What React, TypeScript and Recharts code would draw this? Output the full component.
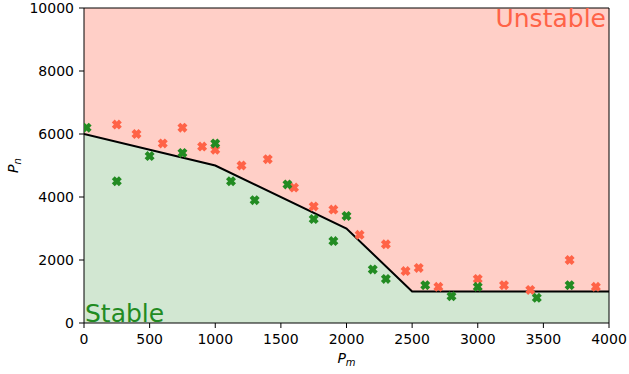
import React from "react";
import {
  ComposedChart,
  Area,
  Line,
  Scatter,
  XAxis,
  YAxis,
  ReferenceLine,
  ReferenceDot,
} from "recharts";

// Stability boundary (P_m, P_n)
const boundaryX = [0, 1000, 2000, 2500, 4000];
const boundaryY = [6000, 5000, 3000, 1000, 1000];

// Unstable samples
const unstableX = [250, 400, 600, 750, 900, 1000, 1200, 1400, 1600, 1750, 1900, 2100, 2300, 2450, 2550, 2700, 3000, 3200, 3400, 3700, 3900];
const unstableY = [6300, 6000, 5700, 6200, 5600, 5500, 5000, 5200, 4300, 3700, 3600, 2800, 2500, 1650, 1750, 1150, 1400, 1200, 1050, 2000, 1150];

// Stable samples
const stableX = [20, 250, 500, 750, 1000, 1120, 1300, 1550, 1750, 1900, 2000, 2200, 2300, 2600, 2800, 3000, 3450, 3700];
const stableY = [6200, 4500, 5300, 5400, 5700, 4500, 3900, 4400, 3300, 2600, 3400, 1700, 1400, 1200, 850, 1150, 800, 1200];

const xTicks = [0, 500, 1000, 1500, 2000, 2500, 3000, 3500, 4000];
const yTicks = [0, 2000, 4000, 6000, 8000, 10000];

const X_MAX = 4000;
const Y_MAX = 10000;

const unstableLabel = { x: 3977, y: 9406, text: "Unstable" };
const stableLabel = { x: 0, y: 0, text: "Stable" };

const boundary = boundaryX.map((x, i) => ({ x, y: boundaryY[i] }));
const unstable = unstableX.map((x, i) => ({ x, y: unstableY[i] }));
const stable = stableX.map((x, i) => ({ x, y: stableY[i] }));

const RED = "#ff6347";
const GREEN = "#228b22";
const FONT = "DejaVu Sans";

const XMarker = (props: any) => {
  const { cx, cy, fill } = props;
  if (cx == null || cy == null) return null;
  const h = 5;
  const a = 2.9;
  const pts = [
    [-h, -h + a], [-h + a, -h], [0, -a], [h - a, -h], [h, -h + a], [a, 0],
    [h, h - a], [h - a, h], [0, a], [-h + a, h], [-h, h - a], [-a, 0],
  ]
    .map(([px, py]) => `${cx + px},${cy + py}`)
    .join(" ");
  return <polygon points={pts} fill={fill} stroke="none" />;
};

const XLabel = (props: any) => {
  const vb = props.viewBox || {};
  const cx = vb.x + vb.width / 2;
  return (
    <text x={cx} y={363} textAnchor="middle" fontFamily={FONT} fontSize={14} fill="#000">
      <tspan fontStyle="italic">P</tspan>
      <tspan fontStyle="italic" fontSize={10} dy={3}>m</tspan>
    </text>
  );
};

const YLabel = (props: any) => {
  const vb = props.viewBox || {};
  const cy = vb.y + vb.height / 2;
  const x = 18;
  return (
    <text x={x} y={cy} textAnchor="middle" fontFamily={FONT} fontSize={14} fill="#000" transform={`rotate(-90, ${x}, ${cy})`}>
      <tspan fontStyle="italic">P</tspan>
      <tspan fontStyle="italic" fontSize={10} dy={3}>n</tspan>
    </text>
  );
};

export default function App() {
  return (
    <div style={{ position: "absolute", left: 0, top: 0, background: "#fff" }}>
      <ComposedChart
        width={629}
        height={374}
        data={boundary}
        margin={{ top: 8, right: 20, left: 0, bottom: 0 }}
      >
        <XAxis
          type="number"
          dataKey="x"
          domain={[0, X_MAX]}
          ticks={xTicks}
          allowDataOverflow
          height={51}
          tickSize={5}
          tickMargin={6}
          stroke="#000"
          tick={{ fill: "#000", fontSize: 14, fontFamily: FONT }}
          label={<XLabel />}
        />
        <YAxis
          type="number"
          domain={[0, Y_MAX]}
          ticks={yTicks}
          allowDataOverflow
          width={84}
          tickSize={5}
          tickMargin={5}
          stroke="#000"
          tick={{ fill: "#000", fontSize: 14, fontFamily: FONT }}
          label={<YLabel />}
        />
        <Area
          type="linear"
          dataKey={(d: any) => [d.y, Y_MAX]}
          fill="#ffcfc7"
          fillOpacity={1}
          stroke="none"
          isAnimationActive={false}
        />
        <Area
          type="linear"
          dataKey={(d: any) => [0, d.y]}
          fill="#d2e7d2"
          fillOpacity={1}
          stroke="none"
          isAnimationActive={false}
        />
        <Scatter data={unstable} dataKey="y" fill={RED} shape={<XMarker />} isAnimationActive={false} />
        <Scatter data={stable} dataKey="y" fill={GREEN} shape={<XMarker />} isAnimationActive={false} />
        <Line
          type="linear"
          dataKey="y"
          stroke="#000"
          strokeWidth={2}
          dot={false}
          activeDot={false}
          isAnimationActive={false}
        />
        <ReferenceLine y={Y_MAX} stroke="#000" strokeWidth={1} />
        <ReferenceLine x={X_MAX} stroke="#000" strokeWidth={1} />
        <ReferenceDot
          x={unstableLabel.x}
          y={unstableLabel.y}
          r={0}
          shape={(p: any) => (
            <text x={p.cx} y={p.cy} textAnchor="end" fontFamily={FONT} fontSize={25} fill={RED}>
              {unstableLabel.text}
            </text>
          )}
        />
        <ReferenceDot
          x={stableLabel.x}
          y={stableLabel.y}
          r={0}
          shape={(p: any) => (
            <text x={p.cx + 1} y={p.cy - 1} textAnchor="start" fontFamily={FONT} fontSize={25} fill={GREEN}>
              {stableLabel.text}
            </text>
          )}
        />
      </ComposedChart>
    </div>
  );
}
